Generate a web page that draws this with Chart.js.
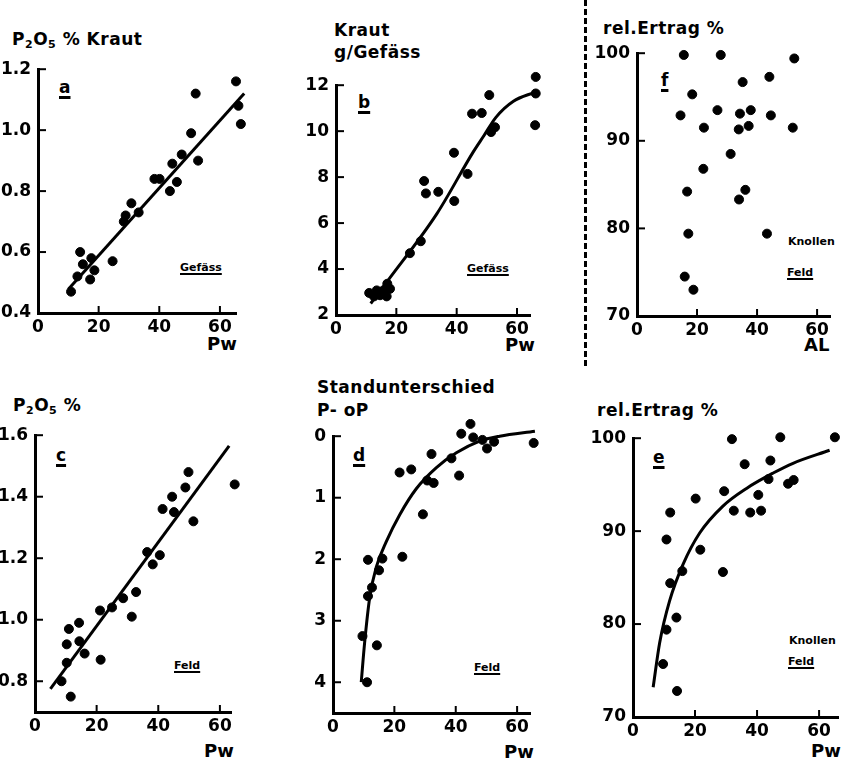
<!DOCTYPE html>
<html>
<head>
<meta charset="utf-8">
<script src="https://cdn.jsdelivr.net/npm/chart.js@4.4.1/dist/chart.umd.min.js"></script>
<style>
body { margin: 0; background: #fff; width: 848px; height: 767px; position: relative; overflow: hidden;
  font-family: "DejaVu Sans", sans-serif; font-weight: bold; color: #000; }
canvas { position: absolute; }
.t { position: absolute; font-size: 17px; line-height: 1; white-space: nowrap; letter-spacing: 0.5px; }
.t sub { font-size: 11px; vertical-align: -3px; }
.l { position: absolute; font-size: 17px; line-height: 1; text-decoration: underline; text-decoration-thickness: 3px; text-underline-offset: 3px; }
.s { position: absolute; font-size: 11px; line-height: 1; white-space: nowrap; }
.u { text-decoration: underline; text-decoration-thickness: 2px; text-underline-offset: 2px; }
.ax { position: absolute; font-size: 18px; line-height: 1; }
#sep { position: absolute; left: 584px; top: 0; height: 366px; border-left: 3px dashed #000; }
</style>
</head>
<body>
<div id="sep"></div>

<div class="t" style="left:12px;top:31px">P<sub>2</sub>O<sub>5</sub> % Kraut</div>
<div class="t" style="left:334px;top:22px">Kraut</div>
<div class="t" style="left:334px;top:44px">g/Gefäss</div>
<div class="t" style="left:603px;top:20px">rel.Ertrag %</div>
<div class="t" style="left:13px;top:397px">P<sub>2</sub>O<sub>5</sub> %</div>
<div class="t" style="left:317px;top:379px">Standunterschied</div>
<div class="t" style="left:317px;top:402px">P- oP</div>
<div class="t" style="left:597px;top:402px">rel.Ertrag %</div>

<div class="l" style="left:59px;top:79px">a</div>
<div class="l" style="left:358px;top:94px">b</div>
<div class="l" style="left:661px;top:72px">f</div>
<div class="l" style="left:56px;top:447px">c</div>
<div class="l" style="left:353px;top:447px">d</div>
<div class="l" style="left:653px;top:449px">e</div>

<div class="s u" style="left:180px;top:262px">Gefäss</div>
<div class="s u" style="left:467px;top:263px">Gefäss</div>
<div class="s" style="left:788px;top:236px">Knollen</div>
<div class="s u" style="left:787px;top:267px">Feld</div>
<div class="s u" style="left:174px;top:660px">Feld</div>
<div class="s u" style="left:474px;top:662px">Feld</div>
<div class="s" style="left:789px;top:635px">Knollen</div>
<div class="s u" style="left:788px;top:656px">Feld</div>

<div class="ax" style="left:207px;top:335px">Pw</div>
<div class="ax" style="left:505px;top:336px">Pw</div>
<div class="ax" style="left:804px;top:336px">AL</div>
<div class="ax" style="left:204px;top:742px">Pw</div>
<div class="ax" style="left:504px;top:743px">Pw</div>
<div class="ax" style="left:811px;top:742px">Pw</div>

<script>
// tick labels
const xTicks = [0, 20, 40, 60];
const aTicks = [0.4, 0.6, 0.8, 1.0, 1.2];
const bTicks = [2, 4, 6, 8, 10, 12];
const fTicks = [70, 80, 90, 100];
const cTicks = [0.8, 1.0, 1.2, 1.4, 1.6];
const dTicks = [0, 1, 2, 3, 4];
const eTicks = [70, 80, 90, 100];

// a: P2O5 % Kraut vs Pw (Gefäss)
const aPw = [10.9, 13.9, 13.0, 14.8, 17.2, 17.6, 18.6, 24.6, 28.3, 28.9, 30.8, 33.2, 38.4, 40.1, 43.5, 44.3, 45.8, 47.4, 50.5, 52.8, 52.0, 65.3, 66.1, 66.9];
const aP2O5 = [0.47, 0.60, 0.52, 0.56, 0.51, 0.58, 0.54, 0.57, 0.70, 0.72, 0.76, 0.73, 0.84, 0.84, 0.80, 0.89, 0.83, 0.92, 0.99, 0.90, 1.12, 1.16, 1.08, 1.02];
const aFitPw = [10, 68];
const aFitP2O5 = [0.478, 1.12];

// b: Kraut g/Gefäss vs Pw
const bPw = [11.0, 12.6, 13.5, 14.6, 15.7, 16.8, 17.0, 17.9, 24.5, 28.1, 29.2, 29.8, 33.9, 39.1, 39.2, 43.6, 45.1, 48.3, 50.8, 51.4, 52.7, 66.2, 66.2, 66.0];
const bKraut = [2.96, 2.81, 3.07, 2.86, 3.07, 2.81, 3.36, 3.14, 4.69, 5.21, 7.83, 7.29, 7.36, 9.06, 6.96, 8.14, 10.76, 10.79, 11.57, 9.96, 10.17, 12.36, 11.64, 10.26];
const bFitPw = [11.5, 17.2, 33.4, 45.5, 49, 53, 58.8, 66];
const bFitKraut = [2.5, 3.5, 6.4, 9.1, 9.8, 10.6, 11.3, 11.7];

// f: rel. Ertrag % vs AL (Knollen, Feld)
const fAL = [15.6, 27.9, 52.4, 44.1, 35.2, 18.4, 14.5, 26.8, 34.3, 37.9, 44.6, 22.3, 33.9, 37.2, 51.9, 31.2, 22.1, 16.7, 36.1, 34.0, 17.1, 43.3, 15.9, 18.8];
const fErtrag = [99.8, 99.8, 99.4, 97.3, 96.7, 95.3, 92.9, 93.5, 93.1, 93.5, 92.9, 91.5, 91.3, 91.7, 91.5, 88.5, 86.8, 84.2, 84.4, 83.3, 79.4, 79.4, 74.5, 73.0];

// c: P2O5 % vs Pw (Feld)
const cPw = [8.6, 10.3, 10.3, 11.0, 11.6, 14.3, 14.4, 16.1, 21.1, 21.3, 25.0, 28.6, 31.4, 32.8, 36.4, 38.2, 40.5, 41.4, 44.5, 45.1, 48.8, 49.8, 51.4, 64.8];
const cP2O5 = [0.80, 0.86, 0.92, 0.97, 0.75, 0.99, 0.93, 0.89, 1.03, 0.87, 1.04, 1.07, 1.01, 1.09, 1.22, 1.18, 1.21, 1.36, 1.40, 1.35, 1.43, 1.48, 1.32, 1.44];
const cFitPw = [5, 63];
const cFitP2O5 = [0.775, 1.565];

// d: Standunterschied P-oP vs Pw
const dPw = [9.6, 11.1, 11.4, 11.4, 12.7, 14.3, 15.0, 16.1, 21.7, 22.6, 25.5, 29.3, 30.7, 32.1, 32.8, 38.6, 41.1, 41.8, 44.8, 45.7, 48.7, 50.2, 52.5, 65.4];
const dStand = [3.25, 4.0, 2.01, 2.60, 2.46, 3.40, 2.18, 1.99, 0.59, 1.96, 0.54, 1.27, 0.72, 0.29, 0.76, 0.36, 0.64, -0.04, -0.20, 0.02, 0.06, 0.20, 0.09, 0.11];
const dFitPw = [9.2, 10.3, 12, 14.1, 17.4, 21.7, 27.2, 33.7, 40.2, 47.8, 54.3, 65.8];
const dFitStand = [4.0, 3.36, 2.61, 2.13, 1.71, 1.28, 0.85, 0.51, 0.27, 0.08, 0.0, -0.08];

// e: rel. Ertrag % vs Pw (Knollen, Feld)
const ePw = [9.7, 10.8, 10.8, 12.0, 12.0, 14.0, 14.2, 15.9, 20.2, 21.7, 29.0, 29.4, 31.9, 32.5, 36.0, 37.8, 40.4, 41.3, 43.7, 44.3, 47.5, 50.0, 51.8, 65.1];
const eErtrag = [75.7, 89.1, 79.4, 92.0, 84.4, 80.7, 72.8, 85.7, 93.5, 88.0, 85.6, 94.3, 99.9, 92.2, 97.2, 92.0, 93.9, 92.2, 95.6, 97.6, 100.1, 95.1, 95.5, 100.1];
const eFitPw = [6.5, 8.6, 11.8, 16.1, 21.5, 29.0, 36.6, 45.2, 51.6, 63.4];
const eFitErtrag = [73.2, 78.0, 82.5, 86.4, 89.8, 92.7, 94.6, 96.25, 97.3, 98.7];

const pts = (xs, ys) => xs.map((x, i) => ({ x: x, y: ys[i] }));

// points a bit outside the axes (as in the figure) are otherwise skipped by chart.js
const wideArea = {
    id: 'wideArea',
    beforeDatasetsDraw(chart) {
        const a = chart.chartArea;
        chart._savedArea = a;
        chart.chartArea = { left: a.left - 40, top: a.top - 40, right: a.right + 40, bottom: a.bottom + 40,
            width: a.width + 80, height: a.height + 80 };
    },
    afterDatasetsDraw(chart) {
        chart.chartArea = chart._savedArea;
    }
};

const innerTicks = {
    id: 'innerTicks',
    afterDraw(chart) {
        const { ctx, chartArea: a, scales: { x, y } } = chart;
        ctx.save();
        ctx.strokeStyle = '#000';
        ctx.lineWidth = 2;
        x.ticks.forEach(t => {
            if (t.value === 0) return;
            const px = x.getPixelForValue(t.value);
            ctx.beginPath(); ctx.moveTo(px, a.bottom); ctx.lineTo(px, a.bottom - 7); ctx.stroke();
        });
        y.ticks.forEach(t => {
            const py = y.getPixelForValue(t.value);
            ctx.beginPath(); ctx.moveTo(a.left, py); ctx.lineTo(a.left + 8, py); ctx.stroke();
        });
        ctx.restore();
    }
};

const YW = 46, XH = 30, PT = 14, PR = 14;

const makePanel = (box, xMax, yMin, yMax, yTicks, digits, scatter, fit, curved, reverse) => {
    const cv = document.createElement('canvas');
    const w = box.r - box.l + YW + PR;
    const h = box.b - box.t + XH + PT;
    cv.width = w; cv.height = h;
    cv.style.left = (box.l - YW) + 'px';
    cv.style.top = (box.t - PT) + 'px';
    cv.style.width = w + 'px'; cv.style.height = h + 'px';
    document.body.appendChild(cv);
    const tickFont = { family: 'DejaVu Sans', size: 17, weight: 'bold' };
    const datasets = [{
        type: 'scatter',
        data: scatter,
        backgroundColor: '#000',
        borderColor: '#000',
        pointRadius: 4.5,
        clip: false,
    }];
    if (fit) {
        datasets.push({
            type: 'line',
            data: fit,
            borderColor: '#000',
            borderWidth: 3,
            pointRadius: 0,
            fill: false,
            cubicInterpolationMode: curved ? 'monotone' : 'default',
            clip: false,
        });
    }
    return new Chart(cv, {
        type: 'scatter',
        data: { datasets: datasets },
        options: {
            responsive: false,
            animation: false,
            layout: { autoPadding: false, padding: { top: PT, right: PR, left: 0, bottom: 0 } },
            plugins: { legend: { display: false }, tooltip: { enabled: false } },
            scales: {
                x: {
                    type: 'linear', min: 0, max: xMax,
                    afterFit: s => { s.height = XH; },
                    afterBuildTicks: s => { s.ticks = xTicks.map(v => ({ value: v })); },
                    grid: { display: false, drawTicks: false },
                    border: { display: true, color: '#000', width: 3 },
                    ticks: { color: '#000', font: tickFont, padding: 4, maxRotation: 0 },
                },
                y: {
                    type: 'linear', min: yMin, max: yMax, reverse: !!reverse,
                    afterFit: s => { s.width = YW; },
                    afterBuildTicks: s => { s.ticks = yTicks.map(v => ({ value: v })); },
                    grid: { display: false, drawTicks: false },
                    border: { display: true, color: '#000', width: 3 },
                    ticks: { color: '#000', font: tickFont, padding: 7, callback: v => v.toFixed(digits) },
                },
            },
        },
        plugins: [wideArea, innerTicks],
    });
};

makePanel({ l: 38, t: 66, r: 236, b: 313 }, 65.3, 0.4, 1.2, aTicks, 1, pts(aPw, aP2O5), pts(aFitPw, aFitP2O5), false);
makePanel({ l: 336, t: 82, r: 530, b: 315 }, 64.3, 2, 12, bTicks, 0, pts(bPw, bKraut), pts(bFitPw, bFitKraut), true);
makePanel({ l: 637, t: 50, r: 830, b: 316 }, 64.3, 70, 100, fTicks, 0, pts(fAL, fErtrag), null, false);
makePanel({ l: 35, t: 432, r: 231, b: 712 }, 63.6, 0.7, 1.6, cTicks, 1, pts(cPw, cP2O5), pts(cFitPw, cFitP2O5), false);
makePanel({ l: 333, t: 433, r: 530, b: 713 }, 64.2, 0, 4.5, dTicks, 0, pts(dPw, dStand), pts(dFitPw, dFitStand), true, true);
makePanel({ l: 633, t: 435, r: 838, b: 717 }, 66.1, 70, 100, eTicks, 0, pts(ePw, eErtrag), pts(eFitPw, eFitErtrag), true);
</script>
</body>
</html>
